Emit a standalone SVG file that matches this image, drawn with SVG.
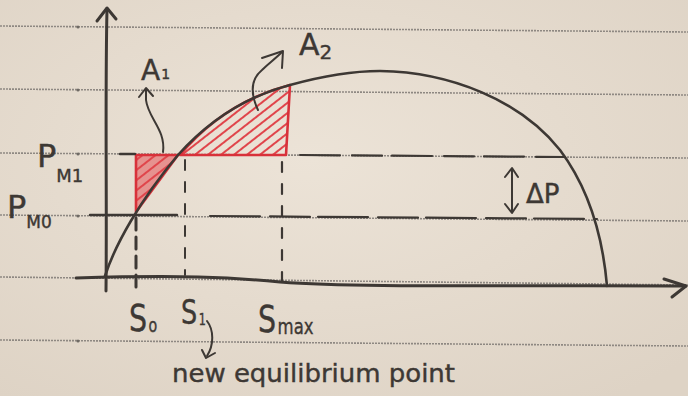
<svg xmlns="http://www.w3.org/2000/svg" width="688" height="396" viewBox="0 0 688 396">
<style>
.rule{stroke:#8e8882;stroke-width:1.6;stroke-dasharray:2 1;fill:none}
.pen{stroke:#3d3834;fill:none;stroke-linecap:round;stroke-linejoin:round}
.red{stroke:#d8313a;fill:none;stroke-width:2.6;stroke-linejoin:round}
.txt{font-family:"DejaVu Sans",sans-serif;fill:#3d3834;stroke:#3d3834;stroke-width:0.4}
</style>
<defs>
<radialGradient id="paper" cx="45%" cy="40%" r="75%">
<stop offset="0" stop-color="#ece3d7"/>
<stop offset="1" stop-color="#ded3c5"/>
</radialGradient>
<pattern id="hatch" width="8" height="8" patternUnits="userSpaceOnUse" patternTransform="rotate(-38)">
<line x1="0" y1="2" x2="8" y2="2" stroke="#e0454b" stroke-width="2"/>
</pattern>
<clipPath id="a2clip"><path d="M180,155 C205,125 240,98 290,85 L286,155 Z"/></clipPath>
</defs>
<rect width="688" height="396" fill="url(#paper)"/>
<g id="rules">
<line class="rule" x1="0" y1="26" x2="688" y2="32"/>
<line class="rule" x1="0" y1="89" x2="688" y2="95"/>
<line class="rule" x1="0" y1="153" x2="688" y2="158"/>
<line class="rule" x1="0" y1="215" x2="688" y2="221"/>
<line class="rule" x1="0" y1="277" x2="688" y2="285"/>
<line class="rule" x1="0" y1="340" x2="688" y2="346"/>
<g fill="#6f6a64"><circle cx="78" cy="27" r="1.5"/><circle cx="78" cy="90" r="1.5"/><circle cx="78" cy="154" r="1.5"/><circle cx="78" cy="216" r="1.5"/><circle cx="78" cy="341" r="1.5"/></g>
</g>
<g id="areas">
<path d="M136,155 L178,155 L136,212 Z" fill="#e4535a" fill-opacity="0.55"/>
<path d="M136,155 L178,155 L136,212 Z" fill="url(#hatch)"/>
<path class="red" d="M136,155 L178,155 L136,212 Z"/>
<rect x="180" y="80" width="112" height="80" fill="url(#hatch)" clip-path="url(#a2clip)"/>
<path class="red" d="M180,155 C205,125 240,98 290,85 L286,155 Z"/>
</g>
<g id="levels" class="pen">
<path d="M120,154 L135,154" stroke-width="2.4"/>
<path d="M300,155 L565,157" stroke-width="2.2" stroke-dasharray="40 12 30 10"/>
<path d="M90,215 L177,215" stroke-width="2.4"/>
<path d="M210,216 L597,219" stroke-width="2.2" stroke-dasharray="50 10 40 8"/>
<path d="M136,218 L136,290" stroke-width="3" stroke-dasharray="12 7"/>
<path d="M185,160 L185,275" stroke-width="2" stroke-dasharray="10 12"/>
<path d="M282,162 L282,292" stroke-width="2.2" stroke-dasharray="10 12"/>
</g>
<g id="axes" class="pen" stroke-width="3">
<path d="M106,291 C107,200 105,100 107,9"/>
<path d="M97,21 L107,8 L116,19"/>
<path d="M76,278 C180,275 230,277 280,282 C360,288 500,285 686,286"/>
<path d="M664,279 L686,286 L672,297"/>
</g>
<g id="curve" class="pen" stroke-width="2.6">
<path d="M105,276 C115,245 140,200 178,155 C205,125 240,98 290,85 C330,74 360,71 380,71 C450,72 520,100 560,150 C590,190 603,240 607,286"/>
</g>
<g id="arrows" class="pen" stroke-width="2">
<path d="M163,152 C166,130 148,118 146,100 L146,89"/>
<path d="M139,97 L146,88 L153,96"/>
<path d="M258,110 C251,95 250,80 262,70 C268,64 275,59 282,52"/>
<path d="M262,58 L283,51 L282,68"/>
<path d="M207,321 C214,330 214,345 207,356"/>
<path d="M202,350 L206,358 L215,353"/>
<path d="M512,169 L512,212"/>
<path d="M505,177 L512,168 L518,177"/>
<path d="M505,204 L512,213 L518,204"/>
</g>
<g id="labels" class="txt">
<text x="141" y="80" font-size="28">A<tspan font-size="14" dx="1" dy="-1">1</tspan></text>
<text x="299" y="55" font-size="30">A<tspan font-size="20" dy="4">2</tspan></text>
<text x="37" y="167" font-size="32">P<tspan font-size="18" dy="15">M1</tspan></text>
<text x="7" y="218" font-size="32">P<tspan font-size="17" dy="10">M0</tspan></text>
<text transform="translate(129,331) scale(0.75,1)" font-size="38">S<tspan font-size="19" dx="2" dy="1">o</tspan></text>
<text transform="translate(181,324) scale(0.75,1)" font-size="34">S<tspan font-size="15" dx="2" dy="1">1</tspan></text>
<text transform="translate(258,332) scale(0.75,1)" font-size="38">S<tspan font-size="22" dx="2" dy="2">max</tspan></text>
<text x="526" y="203" font-size="26">ΔP</text>
<text x="172" y="382" font-size="24" textLength="283" lengthAdjust="spacingAndGlyphs">new equilibrium point</text>
</g>
</svg>
